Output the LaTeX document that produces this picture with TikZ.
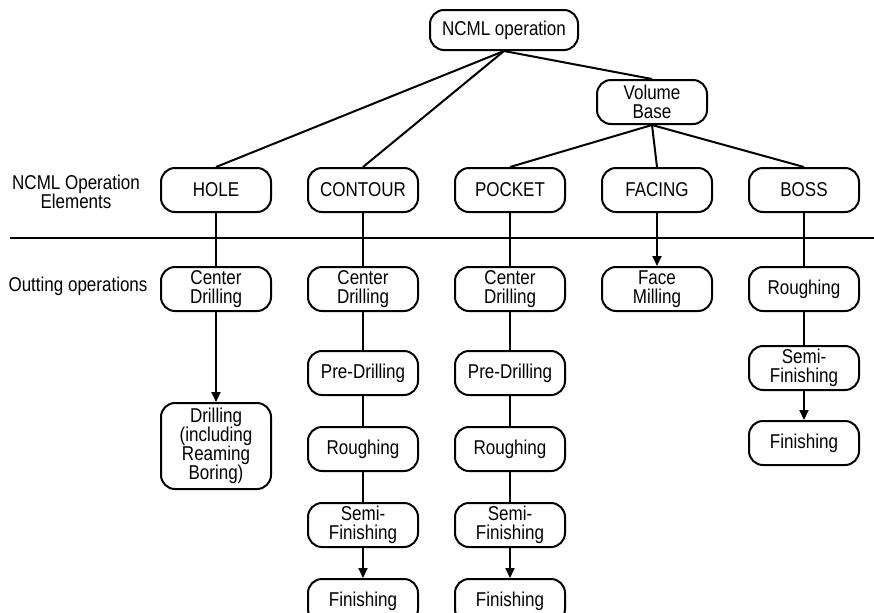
\documentclass[tikz,border=0pt]{standalone}
\usepackage{fontspec}
\setmainfont{Liberation Sans}[FakeStretch=0.85]
\usetikzlibrary{positioning, arrows.meta}

\begin{document}
\begin{tikzpicture}[
    x=0.5pt, y=-0.5pt,
    node distance=15pt and 17.5pt,
    opbox/.style={draw, line width=1pt, rectangle, rounded corners=7pt, align=center, minimum width=55pt, minimum height=22pt, inner sep=1pt, font=\fontsize{10}{9.6}\selectfont},
    tag/.style={align=center, inner sep=0pt, font=\fontsize{10}{9.6}\selectfont},
    every edge/.style={draw, line width=1pt},
    flow/.style={-{Triangle[length=5pt, width=4.5pt]}}
]
\useasboundingbox (0,0) rectangle (874,612);

\node[opbox, minimum width=74pt, minimum height=20pt] (ncml) at (504,30) {NCML operation};
\node[opbox] (volume) at (652,102) {Volume\\Base};

\node[opbox] (hole) at (216,190) {HOLE};
\node[opbox] (contour) [right=of hole] {CONTOUR};
\node[opbox] (pocket) [right=of contour] {POCKET};
\node[opbox] (facing) [right=of pocket] {FACING};
\node[opbox] (boss) [right=of facing] {BOSS};

\node[tag] (elemlabel) at (76,192) {NCML Operation\\Elements};
\node[tag] (cutlabel) at (78,286) {Outting operations};

\coordinate (sepl) at (10,238);
\coordinate (sepr) at (874,238);
\draw[line width=1.3pt] (sepl) -- (sepr);

\node[opbox] (holecd) [below=26.5pt of hole] {Center\\Drilling};
\node[opbox, minimum height=43pt] (holedrill) [below=45pt of holecd] {Drilling\\(including\\Reaming\\Boring)};

\node[opbox] (contourcd) [below=26.5pt of contour] {Center\\Drilling};
\node[opbox] (contourpre) [below=19pt of contourcd] {Pre-Drilling};
\node[opbox] (contourrough) [below=of contourpre] {Roughing};
\node[opbox] (contoursemi) [below=of contourrough] {Semi-\\Finishing};
\node[opbox] (contourfin) [below=of contoursemi] {Finishing};

\node[opbox] (pocketcd) [below=26.5pt of pocket] {Center\\Drilling};
\node[opbox] (pocketpre) [below=19pt of pocketcd] {Pre-Drilling};
\node[opbox] (pocketrough) [below=of pocketpre] {Roughing};
\node[opbox] (pocketsemi) [below=of pocketrough] {Semi-\\Finishing};
\node[opbox] (pocketfin) [below=of pocketsemi] {Finishing};

\node[opbox] (facingmill) [below=26.5pt of facing] {Face\\Milling};

\node[opbox] (bossrough) [below=26.5pt of boss] {Roughing};
\node[opbox] (bosssemi) [below=16.5pt of bossrough] {Semi-\\Finishing};
\node[opbox] (bossfin) [below=14.5pt of bosssemi] {Finishing};

\path
 (ncml.south) edge (hole.north)
 (ncml.south) edge (contour.north)
 (ncml.south) edge (volume.north)
 (volume.south) edge (pocket.north)
 (volume.south) edge (facing.north)
 (volume.south) edge (boss.north)
 (hole) edge (holecd)
 (holecd) edge[flow] (holedrill)
 (contour) edge (contourcd)
 (contourcd) edge (contourpre)
 (contourpre) edge (contourrough)
 (contourrough) edge (contoursemi)
 (contoursemi) edge[flow] (contourfin)
 (pocket) edge (pocketcd)
 (pocketcd) edge (pocketpre)
 (pocketpre) edge (pocketrough)
 (pocketrough) edge (pocketsemi)
 (pocketsemi) edge[flow] (pocketfin)
 (facing) edge[flow] (facingmill)
 (boss) edge (bossrough)
 (bossrough) edge (bosssemi)
 (bosssemi) edge[flow] (bossfin);
\end{tikzpicture}
\end{document}
